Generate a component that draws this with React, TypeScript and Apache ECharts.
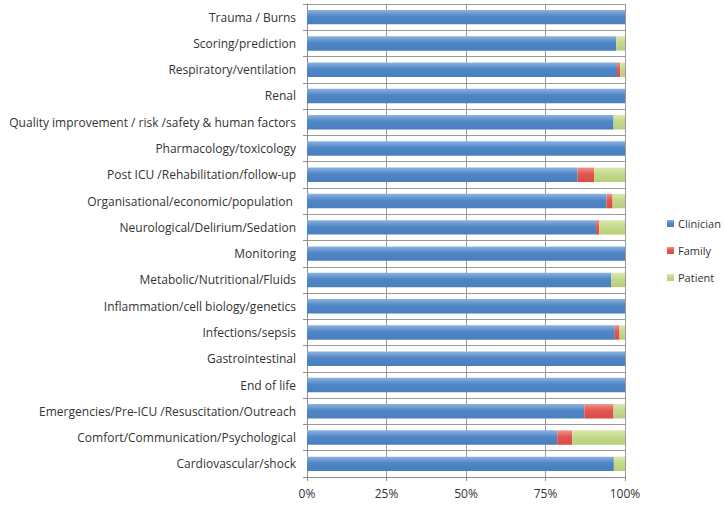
import React, { useEffect, useRef } from "react";
import * as echarts from "echarts";

const categories = [
  "Cardiovascular/shock",
  "Comfort/Communication/Psychological",
  "Emergencies/Pre-ICU /Resuscitation/Outreach",
  "End of life",
  "Gastrointestinal",
  "Infections/sepsis",
  "Inflammation/cell biology/genetics",
  "Metabolic/Nutritional/Fluids",
  "Monitoring",
  "Neurological/Delirium/Sedation",
  "Organisational/economic/population ",
  "Post ICU /Rehabilitation/follow-up",
  "Pharmacology/toxicology",
  "Quality improvement / risk /safety & human factors",
  "Renal",
  "Respiratory/ventilation",
  "Scoring/prediction",
  "Trauma / Burns",
];

const clinician = [96.5, 78.7, 87.2, 100, 100, 96.8, 100, 95.6, 100, 90.9, 94.2, 85.1, 100, 96.4, 100, 97.5, 97.2, 100];
const family = [0, 4.7, 9.2, 0, 0, 1.5, 0, 0, 0, 1.0, 1.9, 5.2, 0, 0, 0, 1.0, 0, 0];
const patient = [3.5, 16.6, 3.6, 0, 0, 1.7, 0, 4.4, 0, 8.1, 3.9, 9.7, 0, 3.6, 0, 1.5, 2.8, 0];

const xTicks = [0, 25, 50, 75, 100];

const grad = (top: string, mid: string, bottom: string) =>
  new echarts.graphic.LinearGradient(0, 0, 0, 1, [
    { offset: 0, color: top },
    { offset: 0.45, color: mid },
    { offset: 1, color: bottom },
  ]);

export default function App() {
  const ref = useRef<HTMLDivElement>(null);
  useEffect(() => {
    if (!ref.current) return;
    const chart = echarts.init(ref.current, null, { renderer: "svg" });
    const font = "'Open Sans', 'Liberation Sans', sans-serif";
    const mk = (name: string, data: number[], legendColor: string, g: any) => ({
      name,
      type: "bar",
      stack: "total",
      data,
      barCategoryGap: "45%",
      color: legendColor,
      itemStyle: { color: g },
      emphasis: { disabled: true },
    });
    chart.setOption({
      animation: false,
      backgroundColor: "#ffffff",
      textStyle: { fontFamily: font },
      grid: { left: 307, right: 100, top: 4, height: 473 },
      legend: {
        orient: "vertical",
        left: 662,
        top: 213,
        itemWidth: 7,
        itemHeight: 7,
        itemGap: 16,
        itemStyle: { borderWidth: 0 },
        icon: "rect",
        textStyle: { fontSize: 11, color: "#333", fontFamily: font, padding: [0, 0, 0, -1] },
        data: ["Clinician", "Family", "Patient"],
      },
      xAxis: {
        type: "value",
        min: xTicks[0],
        max: xTicks[xTicks.length - 1],
        interval: 25,
        axisLine: { show: true, lineStyle: { color: "#8c8c8c" } },
        axisTick: { show: true, length: 4, lineStyle: { color: "#8c8c8c" } },
        splitLine: { show: true, lineStyle: { color: "#9a9a9a", width: 1 } },
        axisLabel: {
          formatter: (v: number) => v + "%",
          fontSize: 12,
          color: "#333",
          margin: 10,
          fontFamily: font,
        },
      },
      yAxis: {
        type: "category",
        data: categories,
        axisLine: { show: true, lineStyle: { color: "#8c8c8c" } },
        axisTick: { show: true, length: 4, lineStyle: { color: "#8c8c8c" } },
        splitLine: { show: true, lineStyle: { color: "#9a9a9a", width: 1 } },
        axisLabel: { fontSize: 12, color: "#333", margin: 11, fontFamily: font },
      },
      series: [
        mk("Clinician", clinician, "#4F81BD", grad("#8db2de", "#4f86c6", "#4a7fbd")),
        mk("Family", family, "#E5605B", grad("#f2908a", "#e3554f", "#d94c47")),
        mk("Patient", patient, "#C3D78A", grad("#dbe8b0", "#c4d98a", "#b8ce7c")),
      ],
    });
    return () => chart.dispose();
  }, []);
  return (
    <div
      ref={ref}
      style={{ position: "fixed", left: 0, top: 0, width: 725, height: 508 }}
    />
  );
}
